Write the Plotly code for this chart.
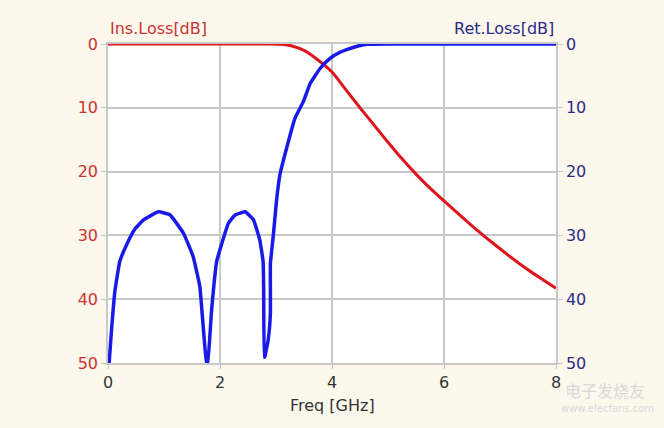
import plotly.graph_objects as go

# Insertion loss (red), dB vs GHz
ins_freq = [0, 1, 2, 2.9, 3.1, 3.3, 3.5, 3.75, 4.0, 4.25, 4.5, 4.75, 5.0, 5.25, 5.5, 5.75,
            6.0, 6.5, 7.0, 7.5, 8.0]
ins_loss = [0, 0, 0, 0, 0.05, 0.35, 1.0, 2.5, 4.4, 7.2, 10.0, 12.7, 15.4, 18.0, 20.4, 22.6,
            24.6, 28.5, 32.1, 35.4, 38.3]

# Return loss (blue), dB vs GHz
ret_freq = [0.02, 0.07, 0.125, 0.21, 0.33, 0.48, 0.63, 0.9, 1.11, 1.35, 1.52, 1.64, 1.70, 1.76,
            1.78, 1.85, 1.94, 2.15, 2.27, 2.45, 2.6, 2.71, 2.77, 2.78, 2.79, 2.8, 2.86, 2.9,
            2.9, 2.95, 3.01, 3.07, 3.19, 3.34, 3.49, 3.61, 3.79, 3.96, 4.1, 4.26, 4.45, 4.62,
            5.0, 8.0]
ret_loss = [50, 44, 38.6, 34.1, 31.5, 29.0, 27.6, 26.3, 26.8, 29.7, 33.3, 38.0, 44.3, 50,
            50, 41.7, 34.1, 28.1, 26.8, 26.3, 27.6, 30.7, 34.1, 38.5, 49.1, 49, 46.4, 42.2,
            34.4, 30.2, 24.5, 20.5, 16.3, 11.6, 9.0, 6.2, 3.8, 2.3, 1.5, 0.9, 0.35, 0.05,
            0, 0]

x_ticks = [0, 2, 4, 6, 8]
y_ticks = [0, 10, 20, 30, 40, 50]

FONT = "DejaVu Sans"
RED = "#e0141c"
BLUE = "#1a1ae8"

fig = go.Figure()
fig.add_trace(go.Scatter(x=ins_freq, y=ins_loss, mode="lines",
                         line=dict(color=RED, width=3, shape="spline", smoothing=0.6),
                         yaxis="y"))
fig.add_trace(go.Scatter(x=ret_freq, y=ret_loss, mode="lines",
                         line=dict(color=BLUE, width=3.5, shape="spline", smoothing=0.3),
                         yaxis="y2"))

grid = "#c8c8c8"
fig.update_layout(
    width=664, height=428,
    margin=dict(l=108, r=108, t=44, b=65),
    paper_bgcolor="#fcf9ec",
    plot_bgcolor="#ffffff",
    showlegend=False,
    xaxis=dict(range=[0, 8], tickvals=x_ticks, showgrid=True, gridcolor=grid, gridwidth=1.5,
               zeroline=False, showline=True, linecolor=grid, linewidth=1.5, mirror=True,
               ticks="outside", ticklen=4, tickcolor=grid,
               tickfont=dict(family=FONT, size=16, color="#333333")),
    yaxis=dict(range=[50, 0], tickvals=y_ticks, showgrid=True, gridcolor=grid, gridwidth=1.5,
               zeroline=False, showline=True, linecolor=grid, linewidth=1.5,
               ticks="outside", ticklen=5, tickcolor=grid,
               tickfont=dict(family=FONT, size=16, color="#cc3333")),
    yaxis2=dict(range=[50, 0], tickvals=y_ticks, overlaying="y", side="right",
                showgrid=False, zeroline=False, showline=True, linecolor=grid, linewidth=1.5,
                ticks="outside", ticklen=5, tickcolor=grid,
                tickfont=dict(family=FONT, size=16, color="#2a2a8a")),
    annotations=[
        dict(text="Ins.Loss[dB]", xref="paper", yref="paper", x=0.0, y=1.05,
             xanchor="left", yanchor="middle", showarrow=False,
             font=dict(family=FONT, size=16, color="#cc3333")),
        dict(text="Ret.Loss[dB]", xref="paper", yref="paper", x=1.0, y=1.05,
             xanchor="right", yanchor="middle", showarrow=False,
             font=dict(family=FONT, size=16, color="#2a2a8a")),
        dict(text="Freq [GHz]", xref="paper", yref="paper", x=0.5, y=-0.132,
             xanchor="center", yanchor="middle", showarrow=False,
             font=dict(family=FONT, size=16, color="#333333")),
        dict(text="电子发烧友", xref="paper", yref="paper", x=1.11, y=-0.085,
             xanchor="center", yanchor="middle", showarrow=False,
             font=dict(family="Noto Sans CJK SC", size=16, color="#d8d8d8")),
        dict(text="www.elecfans.com", xref="paper", yref="paper", x=1.115, y=-0.142,
             xanchor="center", yanchor="middle", showarrow=False,
             font=dict(family=FONT, size=10, color="#d8d8d8")),
    ],
)

fig.write_html("out.html", config={"displayModeBar": False},
               post_script="document.body.style.margin='0';")
